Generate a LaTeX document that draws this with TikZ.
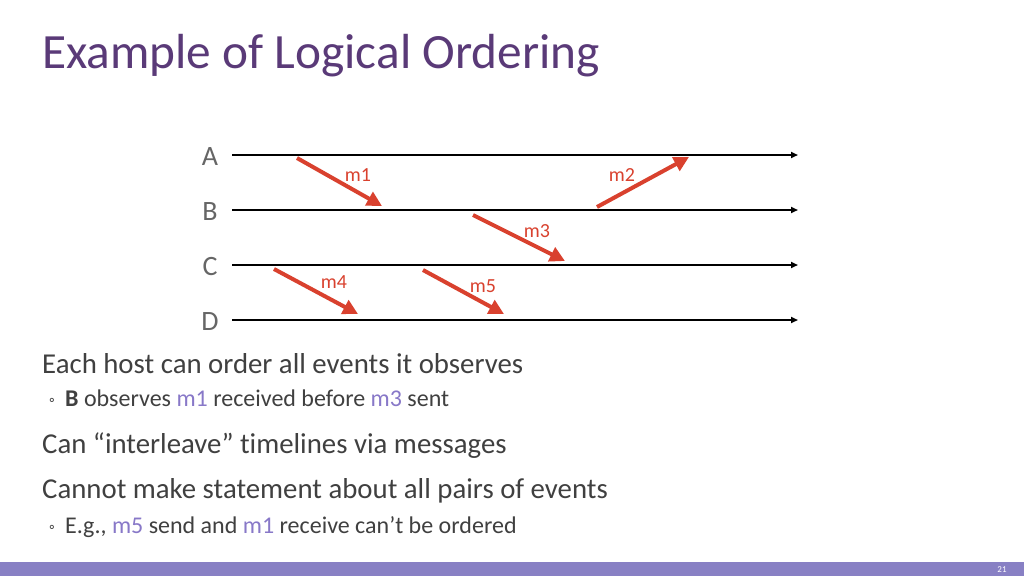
\documentclass[tikz,border=0pt]{standalone}
\usepackage{fontspec}
\setmainfont{Carlito}[Ligatures={NoCommon}]
\usetikzlibrary{arrows.meta}
\definecolor{titlec}{HTML}{5A3A78}
\definecolor{txt}{HTML}{404040}
\definecolor{lab}{HTML}{666666}
\definecolor{msg}{HTML}{D9412E}
\definecolor{hl}{HTML}{8878C8}
\definecolor{barc}{HTML}{8880C4}
\begin{document}
\begin{tikzpicture}[x=1pt,y=-1pt,
  timeline/.style={draw=black,line width=2pt,-{Triangle[length=7pt,width=6pt]}},
  msgarrow/.style={draw=msg,line width=4pt,-{Triangle[length=15pt,width=15pt]}},
  hostlab/.style={font=\fontsize{28}{30}\selectfont,text=lab,anchor=base,inner sep=0pt},
  msglab/.style={font=\fontsize{20}{22}\selectfont,text=msg,anchor=base,inner sep=0pt},
  body/.style={font=\fontsize{28.8}{32}\selectfont,text=txt,anchor=base west,inner sep=0pt},
  sub/.style={font=\fontsize{24}{26}\selectfont,text=txt,anchor=base west,inner sep=0pt},
  bul/.style={font=\fontsize{16}{18}\selectfont,text=txt,anchor=base west,inner sep=0pt}]
\useasboundingbox (0,0) rectangle (1024,576);
\fill[white] (0,0) rectangle (1024,576);
% title
\node[font=\fontsize{49.3}{56}\selectfont,text=titlec,anchor=base west,inner sep=0pt] (title) at (42,68) {Example of Logical Ordering};
% timelines
\foreach \n/\y in {A/155,B/210,C/265,D/320}{
  \coordinate (\n s) at (232,\y);
  \coordinate (\n e) at (798,\y);
  \node[hostlab] (lab\n) at (210,\y+10) {\n};
  \draw[timeline] (\n s) -- (\n e);
}
% message endpoints
\coordinate (m1s) at (297,158); \coordinate (m1e) at (382,206);
\coordinate (m2s) at (597,207); \coordinate (m2e) at (689,157);
\coordinate (m3s) at (473,215); \coordinate (m3e) at (565,261);
\coordinate (m4s) at (274,269); \coordinate (m4e) at (358,314);
\coordinate (m5s) at (423,270); \coordinate (m5e) at (504,314);
\foreach \m in {m1,m2,m3,m4,m5}{\draw[msgarrow] (\m s) -- (\m e);}
\node[msglab] (l1) at (358,181) {m1};
\node[msglab] (l2) at (622,181) {m2};
\node[msglab] (l3) at (537,237) {m3};
\node[msglab] (l4) at (334,288) {m4};
\node[msglab] (l5) at (483,292) {m5};
% text
\node[body] (t1) at (42,373) {Each host can order all events it observes};
\node[bul] (b1) at (49,405) {◦};
\node[sub] (t2) at (65,406) {\textbf{B} observes \textcolor{hl}{m1} received before \textcolor{hl}{m3} sent};
\node[body] (t3) at (42,453) {Can “interleave” timelines via messages};
\node[body] (t4) at (42,498) {Cannot make statement about all pairs of events};
\node[bul] (b2) at (49,532) {◦};
\node[sub] (t5) at (65,533) {E.g., \textcolor{hl}{m5} send and \textcolor{hl}{m1} receive can’t be ordered};
% bottom bar
\fill[barc] (0,562) rectangle (1024,576);
\node[font=\fontsize{9}{10}\selectfont,text=white,anchor=base,inner sep=0pt] (pg) at (1002,572) {21};
\end{tikzpicture}
\end{document}
